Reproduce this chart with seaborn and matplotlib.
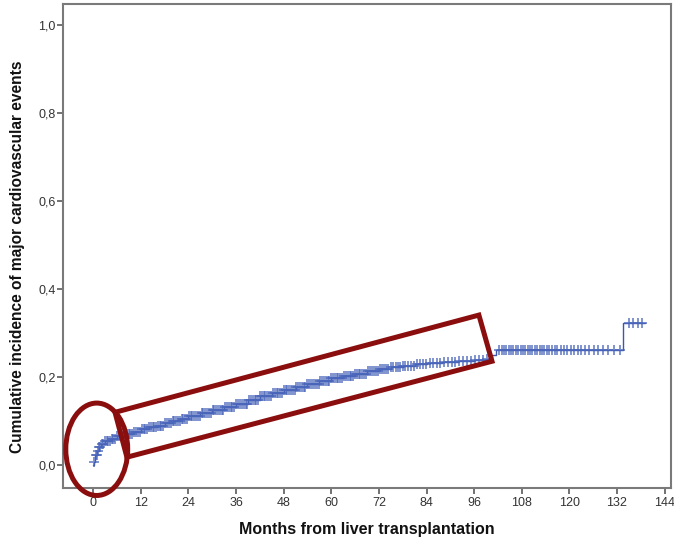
import numpy as np
import pandas as pd
import matplotlib
matplotlib.use("Agg")
import matplotlib.pyplot as plt
from matplotlib.patches import Ellipse, Polygon
import seaborn as sns

# ---- data ----
event_months = [0, 0.2, 0.5, 1.0, 1.5, 2.0, 3.0, 4.5, 6.0, 8.0, 10, 12, 14, 16, 18,
                20, 22, 24, 27, 30, 33, 36, 39, 42, 45, 48, 51, 54, 57, 60, 63,
                66, 69, 72, 75, 78, 81, 84, 88, 92, 96, 99, 100.5, 101.5, 133.5, 139.0]
cum_incidence = [0.0, 0.008, 0.022, 0.033, 0.042, 0.048, 0.055, 0.060, 0.066, 0.071,
                 0.076, 0.081, 0.086, 0.090, 0.095, 0.100, 0.105, 0.111, 0.118, 0.125,
                 0.132, 0.140, 0.148, 0.156, 0.163, 0.171, 0.178, 0.185, 0.191, 0.197,
                 0.203, 0.208, 0.213, 0.218, 0.222, 0.226, 0.229, 0.232, 0.235, 0.237,
                 0.239, 0.242, 0.250, 0.261, 0.323, 0.323]

censored_months = [0.3, 0.6, 0.9, 1.2, 1.5, 1.8, 2.2, 2.6, 3.0, 3.4, 3.8, 4.2, 4.7, 5.1,
                   5.6, 6.1, 6.5, 7.0, 7.5, 8.0, 8.4, 9.0, 9.4, 9.9, 10.3, 10.8, 11.3,
                   11.8, 12.2, 12.7, 13.1, 13.6, 14.0, 14.5, 15.0, 15.4, 15.9, 16.3,
                   16.8, 17.2, 17.7, 18.1, 18.6, 19.1, 19.5, 20.0, 20.4, 20.9, 21.3,
                   21.8, 22.3, 22.7, 23.2, 23.6, 24.1, 24.6, 25.0, 25.5, 25.9, 26.4,
                   26.9, 27.3, 27.8, 28.2, 28.7, 29.2, 29.6, 30.1, 30.5, 31.0, 31.5,
                   31.9, 32.4, 32.8, 33.3, 33.8, 34.2, 34.7, 35.1, 35.6, 36.1, 36.5,
                   37.0, 37.4, 37.9, 38.4, 38.8, 39.3, 39.7, 40.2, 40.7, 41.1, 41.6,
                   42.0, 42.5, 43.0, 43.4, 43.9, 44.3, 44.8, 45.3, 45.7, 46.2, 46.6,
                   47.1, 47.6, 48.0, 48.5, 48.9, 49.4, 49.9, 50.3, 50.8, 51.2, 51.7,
                   52.2, 52.6, 53.1, 53.5, 54.0, 54.5, 54.9, 55.4, 55.8, 56.3, 56.8,
                   57.2, 57.7, 58.1, 58.6, 59.1, 59.5, 60.0, 60.4, 60.9, 61.4, 61.8,
                   62.3, 62.7, 63.2, 63.7, 64.1, 64.6, 65.0, 65.5, 66.0, 66.4, 66.9,
                   67.3, 67.8, 68.3, 68.7, 69.2, 69.7, 70.2, 70.7, 71.2, 71.7, 72.2,
                   72.8, 73.3, 73.9, 74.4, 75.0, 75.6, 76.2, 76.8, 77.4, 78.0, 78.7,
                   79.4, 80.1, 80.8, 81.5, 82.3, 83.1, 83.9, 84.8, 85.7, 86.6, 87.5,
                   88.4, 89.3, 90.3, 91.3, 92.3, 93.3, 94.3, 95.3, 96.3, 97.3, 98.3,
                   99.3,
                   102.3, 102.9, 103.5, 104.1, 104.7, 105.3, 105.9, 106.5, 107.1,
                   107.7, 108.3, 108.9, 109.5, 110.1, 110.7, 111.3, 111.9, 112.5,
                   113.1, 113.7, 114.3, 114.9, 115.6, 116.3, 117.0, 117.8, 118.6,
                   119.4, 120.3, 121.2, 122.1, 123.0, 124.0, 125.0, 126.1, 127.3,
                   128.5, 129.8, 131.3, 132.8, 135.0, 136.0, 137.3, 138.3]

x_ticks = [0, 12, 24, 36, 48, 60, 72, 84, 96, 108, 120, 132, 144]
y_ticks = [0.0, 0.2, 0.4, 0.6, 0.8, 1.0]
y_tick_labels = ["0,0", "0,2", "0,4", "0,6", "0,8", "1,0"]

# annotation shapes (data coordinates)
box_corners = [(5.5, 0.120), (97.2, 0.341), (100.5, 0.236), (8.5, 0.018)]
ellipse_center = (0.9, 0.036)
ellipse_size = (15.6, 0.21)

# ---- plotting ----
sns.set_theme(style="white")
plt.rcParams['font.family'] = ['Liberation Sans', 'DejaVu Sans']

curve = pd.DataFrame({"month": event_months, "ci": cum_incidence})
ev = np.array(event_months)
ci = np.array(cum_incidence)
cens = np.array(censored_months)
idx = np.searchsorted(ev, cens, side="right") - 1
cens_df = pd.DataFrame({"month": cens, "ci": ci[idx]})

fig = plt.figure(figsize=(6.74, 5.40), dpi=100)
ax = fig.add_axes([0.0935, 0.0963, 0.9955 - 0.0935, 0.9926 - 0.0963])

sns.lineplot(data=curve, x="month", y="ci", drawstyle="steps-post",
             color="#3d56aa", linewidth=1.0, ax=ax)
sns.scatterplot(data=cens_df, x="month", y="ci", marker="+", s=60,
                color="#4a66bb", linewidth=1.4, alpha=0.7, ax=ax, zorder=3)

ax.set_xlim(-7.6, 145.6)
ax.set_ylim(-0.052, 1.048)
ax.set_xticks(x_ticks)
ax.set_xticklabels([str(t) for t in x_ticks])
ax.set_yticks(y_ticks)
ax.set_yticklabels(y_tick_labels)

for s in ax.spines.values():
    s.set_visible(True)
    s.set_color("#7a7a7a")
    s.set_linewidth(1.5)

ax.tick_params(axis="both", which="major", direction="out", length=4, width=1.2,
               color="#5a5a5a", labelsize=9, labelcolor="#333333",
               left=True, bottom=True)
ax.tick_params(axis="y", pad=1.5)
ax.tick_params(axis="x", pad=2.5)

ax.set_xlabel("Months from liver transplantation", fontsize=11.5,
              fontweight="bold", color="#111111")
ax.set_ylabel("Cumulative incidence of major cardiovascular events",
              fontsize=11.2, fontweight="bold", color="#111111")
ax.xaxis.set_label_coords(0.5, -0.070)
ax.yaxis.set_label_coords(-0.0625, 0.477)

ax.add_patch(Polygon(box_corners, closed=True, fill=False,
                     edgecolor="#8b0e0e", linewidth=3.6, clip_on=False,
                     joinstyle="miter", zorder=4))
ax.add_patch(Ellipse(ellipse_center, ellipse_size[0], ellipse_size[1],
                     fill=False, edgecolor="#8b0e0e", linewidth=3.6,
                     clip_on=False, zorder=4))

fig.savefig("out.png", dpi=100, facecolor="white")
